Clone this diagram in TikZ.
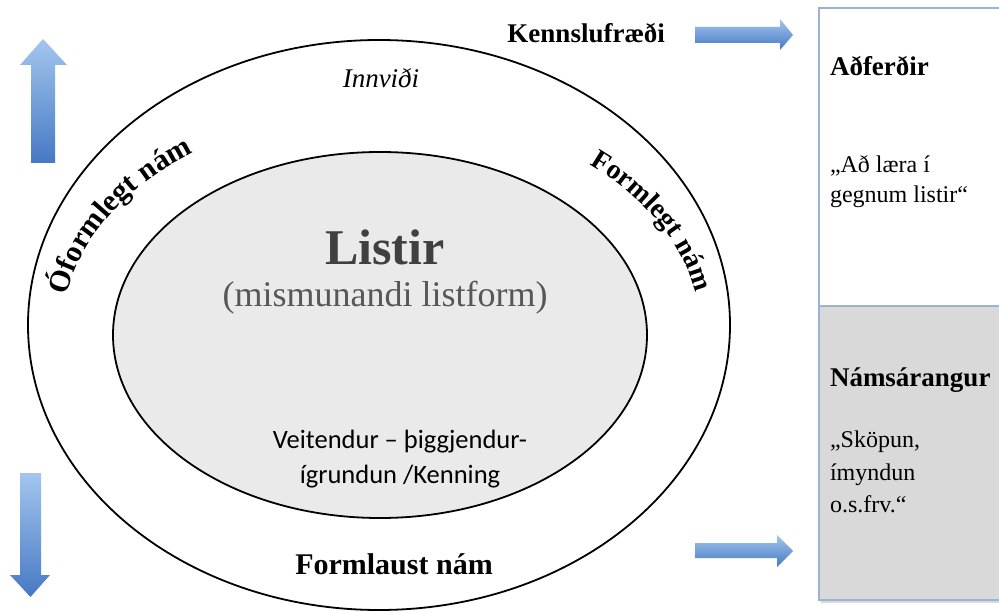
\documentclass[tikz,border=0pt]{standalone}
\usepackage{fontspec}
\setmainfont{Liberation Serif}
\newfontfamily\serifrm{Liberation Serif}
\newfontfamily\calibri{Carlito}
\usetikzlibrary{decorations.text}
\definecolor{arrowlight}{HTML}{A3C6EE}
\definecolor{arrowdark}{HTML}{4678C4}
\definecolor{boxline}{HTML}{9AB2D3}
\definecolor{boxgray}{HTML}{D9D9D9}
\definecolor{innerfill}{HTML}{EAEAEA}
\definecolor{listgray}{HTML}{404040}
\definecolor{subgray}{HTML}{575757}
\begin{document}
\begin{tikzpicture}[x=1pt,y=-1pt,
  lbl/.style={inner sep=0pt, outer sep=0pt},
  arrowshade/.style={top color=arrowlight, bottom color=arrowdark, draw=none},
  ring/.style={line width=1.8pt, draw=black},
  boxstyle/.style={draw=boxline, line width=1.5pt},
  boxhead/.style={lbl, anchor=base west, font=\serifrm\fontsize{27}{27}\selectfont\bfseries},
  boxtext/.style={lbl, anchor=base west, font=\serifrm\fontsize{24}{24}\selectfont},
]
\useasboundingbox (0,0) rectangle (999,612);
\clip (0,0) rectangle (999,612);
\fill[white] (0,0) rectangle (999,612);

% ellipses
\draw[ring] (379,325) ellipse [x radius=351, y radius=285];
\draw[ring, fill=innerfill] (380,335) ellipse [x radius=267, y radius=183];

% right boxes
\draw[black!15, line width=2pt] (821,602) -- (1005,602);
\draw[boxstyle, fill=white] (819,8) rectangle (1010,306);
\draw[boxstyle, fill=boxgray] (819,306) rectangle (1010,600);

% block arrows
\shade[arrowshade] (43,39) -- (67,65) -- (55,65) -- (55,163) -- (31,163) -- (31,65) -- (20,65) -- cycle;
\shade[arrowshade] (20,473) -- (41,473) -- (41,575) -- (50,575) -- (30.5,597) -- (10,575) -- (20,575) -- cycle;
\shade[arrowshade] (695,27) -- (780,27) -- (780,19) -- (793,35) -- (780,50) -- (780,43) -- (695,43) -- cycle;
\shade[arrowshade] (695,543) -- (777,543) -- (777,535) -- (793,551) -- (777,567) -- (777,558) -- (695,558) -- cycle;

% texts
\node[lbl, anchor=base east, font=\serifrm\fontsize{27}{27}\selectfont\bfseries] (kenn) at (665,43) {Kennslufræði};
\node[lbl, anchor=base, font=\serifrm\fontsize{27}{27}\selectfont\itshape] (innv) at (381,88) {Innviði};
\node[lbl, anchor=base, font=\serifrm\fontsize{50}{50}\selectfont\bfseries, text=listgray] (listir) at (385,265) {Listir};
\node[lbl, anchor=base, font=\serifrm\fontsize{36}{36}\selectfont, text=subgray] (mism) at (385,307) {(mismunandi listform)};
\node[lbl, anchor=base, font=\calibri\fontsize{26.5}{26.5}\selectfont] (veit1) at (400,448) {Veitendur – þiggjendur-};
\node[lbl, anchor=base, font=\calibri\fontsize{26.5}{26.5}\selectfont] (veit2) at (400,483) {ígrundun /Kenning};
\node[lbl, anchor=base, font=\serifrm\fontsize{30}{30}\selectfont\bfseries] (forml) at (394,574) {Formlaust nám};

\node[boxhead] (adf) at (830,76) {Aðferðir};
\node[boxtext] (adl1) at (830,173) {„Að læra í};
\node[boxtext] (adl2) at (830,203) {gegnum listir“};
\node[boxhead] (nams) at (830,387) {Námsárangur};
\node[boxtext] (sk1) at (830,447) {„Sköpun,};
\node[boxtext] (sk2) at (830,480) {ímyndun};
\node[boxtext] (sk3) at (830,512) {o.s.frv.“};

% curved labels
\path[decorate, decoration={text along path, text={|\serifrm\fontsize{30}{30}\selectfont\bfseries|Óformlegt nám}}]
  ([shift={(379,330)}]189:316 and 219) arc[start angle=189, end angle=272, x radius=316, y radius=219];
\path[decorate, decoration={text along path, text={|\serifrm\fontsize{28}{28}\selectfont\bfseries|Formlegt nám}}]
  ([shift={(379,330)}]311:321 and 219) arc[start angle=311, end angle=385, x radius=321, y radius=219];
\end{tikzpicture}
\end{document}
